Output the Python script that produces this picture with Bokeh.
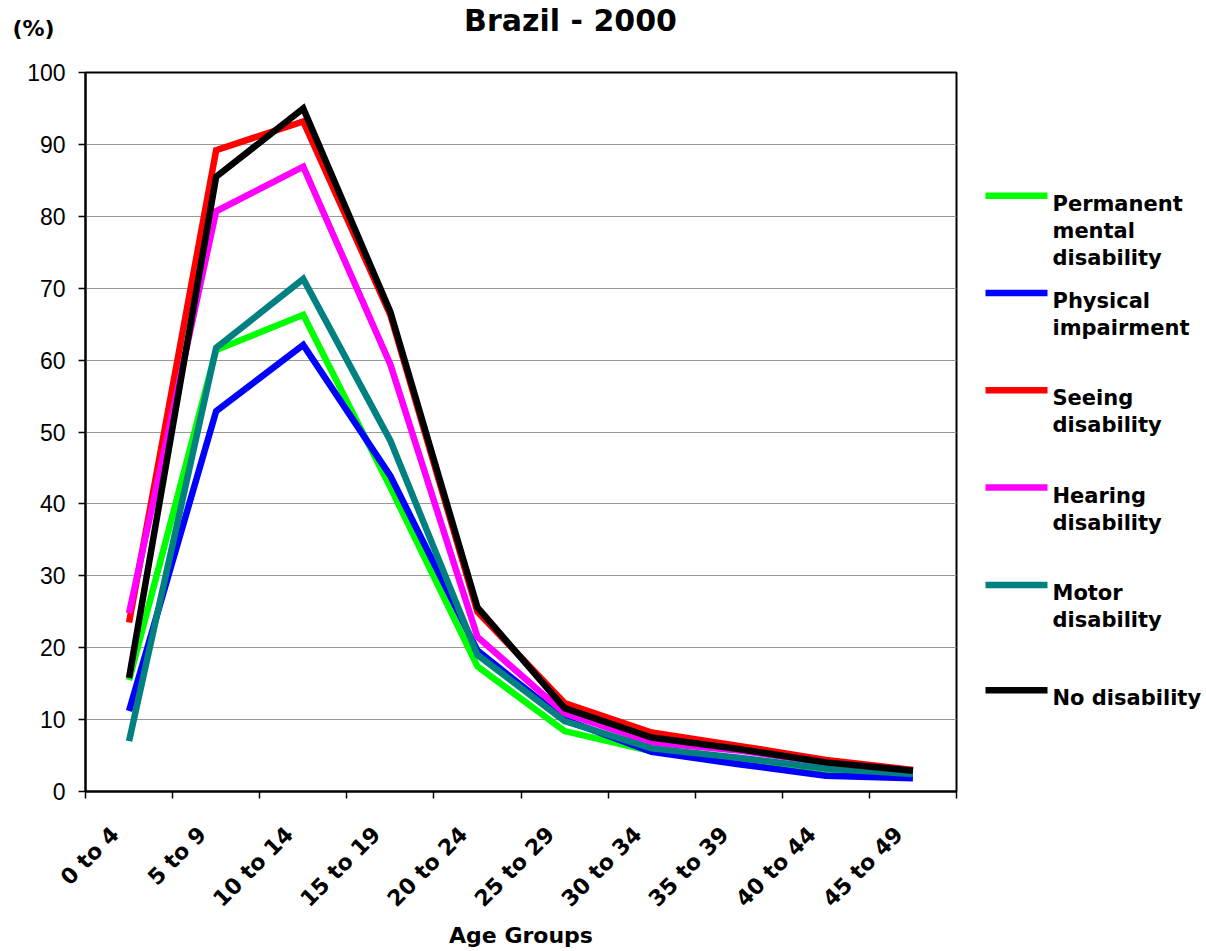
import math
from bokeh.plotting import figure
from bokeh.layouts import column, row
from bokeh.models import Range1d, FixedTicker, Label, ColumnDataSource
from bokeh.core.properties import value
from bokeh.embed import file_html
from bokeh.resources import INLINE

categories = ["0 to 4", "5 to 9", "10 to 14", "15 to 19", "20 to 24",
              "25 to 29", "30 to 34", "35 to 39", "40 to 44", "45 to 49"]
permanent_mental = [15.5, 61.4, 66.3, 42.3, 17.4, 8.4, 5.6, 4.3, 2.7, 2.2]
physical_impairment = [11.2, 52.9, 62.1, 43.9, 19.6, 10.0, 5.5, 3.8, 2.2, 1.85]
seeing = [23.5, 89.2, 93.2, 66.3, 25.0, 12.3, 8.2, 6.35, 4.4, 3.0]
hearing = [24.8, 80.7, 86.9, 59.4, 21.5, 10.9, 6.8, 5.7, 4.0, 2.9]
motor = [7.0, 61.7, 71.3, 48.8, 19.0, 9.8, 6.0, 4.7, 3.2, 2.45]
no_disability = [15.8, 85.5, 95.0, 66.7, 25.6, 11.6, 7.5, 5.9, 4.05, 2.9]

series_names = ["Permanent\nmental\ndisability", "Physical\nimpairment",
                "Seeing\ndisability", "Hearing\ndisability",
                "Motor\ndisability", "No disability"]
series_values = [permanent_mental, physical_impairment, seeing, hearing,
                 motor, no_disability]
series_colors = ["#00FF00", "#0000FF", "#FF0000", "#FF00FF", "#008080", "#000000"]
y_ticks = list(range(0, 101, 10))

BOLD_FONT = "DejaVu Sans"

n = len(categories)
x_centers = [i + 0.5 for i in range(n)]
x_bounds = list(range(n + 1))
label_shift = 0.16  # rotated labels sit a little left of the category centre
label_ticks = [c - label_shift for c in x_centers]

# frame geometry (pixels)
STRIP_H = 60
FRAME_TOP, FRAME_BOTTOM = 72, 796
MAIN_W = 960
MAIN_H = 951 - STRIP_H
BORDER_TOP = FRAME_TOP - STRIP_H
BORDER_BOTTOM = 951 - FRAME_BOTTOM

# ---------------- top strip (title and unit) ----------------
strip = figure(width=1206, height=STRIP_H, output_backend="svg", toolbar_location=None,
               x_range=Range1d(0, 1206), y_range=Range1d(STRIP_H, 0),
               x_axis_location=None, y_axis_location=None,
               min_border=0, min_border_left=0, min_border_right=0,
               min_border_top=0, min_border_bottom=0)
strip.outline_line_color = None
strip.xgrid.visible = False
strip.ygrid.visible = False
strip.background_fill_color = "white"
strip.border_fill_color = "white"
strip.add_layout(Label(x=570, y=20, text="Brazil - 2000", text_align="center",
                       text_baseline="alphabetic", text_font=BOLD_FONT,
                       text_font_style="bold", text_font_size="30px",
                       text_color="black"))
strip.add_layout(Label(x=33, y=28, text="(%)", text_align="center",
                       text_baseline="alphabetic", text_font=BOLD_FONT,
                       text_font_style="bold", text_font_size="22px",
                       text_color="black"))

# ---------------- main chart ----------------
p = figure(width=MAIN_W, height=MAIN_H, output_backend="svg", toolbar_location=None,
           x_range=Range1d(0, n), y_range=Range1d(0, 100),
           min_border_left=85, min_border_right=4, min_border_top=BORDER_TOP,
           min_border_bottom=BORDER_BOTTOM)
p.background_fill_color = "white"
p.border_fill_color = "white"
p.outline_line_color = "black"
p.outline_line_width = 2

xa = p.xaxis[0]
xa.ticker = FixedTicker(ticks=label_ticks, minor_ticks=x_bounds)
xa.major_label_overrides = {c: lab for c, lab in zip(label_ticks, categories)}
xa.major_tick_line_color = None
xa.major_tick_out = 6
xa.minor_tick_line_color = "black"
xa.minor_tick_line_width = 1.5
xa.minor_tick_out = 7
xa.minor_tick_in = 0
xa.major_label_orientation = math.pi / 4
xa.major_label_text_font = BOLD_FONT
xa.major_label_text_font_style = "bold"
xa.major_label_text_font_size = "22px"
xa.major_label_text_color = "black"
xa.major_label_standoff = 32
xa.axis_line_color = "black"
xa.axis_line_width = 2
xa.axis_label = "Age Groups"
xa.axis_label_text_font = BOLD_FONT
xa.axis_label_text_font_style = "bold"
xa.axis_label_text_font_size = "22px"
xa.axis_label_text_color = "black"
xa.axis_label_standoff = 0

ya = p.yaxis[0]
ya.ticker = FixedTicker(ticks=y_ticks)
ya.major_tick_out = 7
ya.major_tick_in = 0
ya.major_tick_line_color = "black"
ya.major_tick_line_width = 1.5
ya.minor_tick_line_color = None
ya.major_label_text_font = "Liberation Sans"
ya.major_label_text_font_size = "23px"
ya.major_label_text_color = "black"
ya.major_label_standoff = 13
ya.axis_line_color = "black"
ya.axis_line_width = 2

p.xgrid.grid_line_color = None
p.ygrid.grid_line_color = "#999999"
p.ygrid.grid_line_width = 1
p.ygrid.ticker = FixedTicker(ticks=y_ticks)

for vals, col in zip(series_values, series_colors):
    p.line(x_centers, vals, line_color=col, line_width=6.5, line_join="miter")

# ---------------- legend panel (frame aligned with the chart frame) ----------------
LEG_W = 1206 - MAIN_W
leg = figure(width=LEG_W, height=MAIN_H, output_backend="svg", toolbar_location=None,
             x_range=Range1d(MAIN_W, 1206), y_range=Range1d(FRAME_BOTTOM, FRAME_TOP),
             x_axis_location=None, y_axis_location=None,
             min_border=0, min_border_left=0, min_border_right=0,
             min_border_top=BORDER_TOP, min_border_bottom=BORDER_BOTTOM)
leg.outline_line_color = None
leg.xgrid.visible = False
leg.ygrid.visible = False
leg.background_fill_color = "white"
leg.border_fill_color = "white"

legend_top = 196
legend_step = 98
legend_rows = [legend_top + legend_step * i for i in range(len(series_names))]
legend_rows[-1] += 8
swatch_x0, swatch_x1, text_x = 985, 1047, 1052
leg_src = ColumnDataSource(dict(
    x0=[swatch_x0] * len(series_names), x1=[swatch_x1] * len(series_names),
    y=legend_rows, ty=[r - 4 for r in legend_rows],
    color=series_colors, name=series_names))
leg.segment(x0="x0", y0="y", x1="x1", y1="y", line_color="color", line_width=6.5,
            line_cap="butt", source=leg_src)
leg.text(x=text_x, y="ty", text="name", source=leg_src, text_align="left",
         text_baseline="top", text_font=value(BOLD_FONT), text_font_style="bold",
         text_font_size="21px", text_line_height=1.13, text_color="black")

layout = column(strip, row(p, leg, spacing=0), spacing=0)
open("out.html", "w").write(file_html(layout, INLINE))
